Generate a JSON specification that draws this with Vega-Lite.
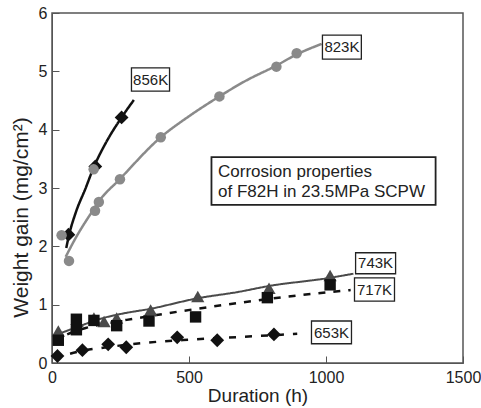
{
  "$schema": "https://vega.github.io/schema/vega-lite/v6.json",
  "width": 411,
  "height": 350,
  "autosize": {"type": "none"},
  "padding": {"left": 52, "top": 13, "right": 18, "bottom": 45},
  "background": "white",
  "config": {
    "view": {"stroke": "#555", "strokeWidth": 1.5},
    "font": "Liberation Sans",
    "axis": {"domainColor": "#555", "tickColor": "#555", "labelColor": "#222", "titleColor": "#222", "grid": false}
  },
  "datasets": {
    "pts": [
      {"series": "856K", "h": 60, "w": 2.2},
      {"series": "856K", "h": 158, "w": 3.37},
      {"series": "856K", "h": 254, "w": 4.21},
      {"series": "823K", "h": 35, "w": 2.19},
      {"series": "823K", "h": 62, "w": 1.75},
      {"series": "823K", "h": 152, "w": 3.32},
      {"series": "823K", "h": 157, "w": 2.61},
      {"series": "823K", "h": 171, "w": 2.76},
      {"series": "823K", "h": 248, "w": 3.15},
      {"series": "823K", "h": 397, "w": 3.87},
      {"series": "823K", "h": 611, "w": 4.57},
      {"series": "823K", "h": 819, "w": 5.08},
      {"series": "823K", "h": 893, "w": 5.31},
      {"series": "743K", "h": 23, "w": 0.55},
      {"series": "743K", "h": 92, "w": 0.71},
      {"series": "743K", "h": 153, "w": 0.77},
      {"series": "743K", "h": 190, "w": 0.71},
      {"series": "743K", "h": 236, "w": 0.77},
      {"series": "743K", "h": 360, "w": 0.91},
      {"series": "743K", "h": 532, "w": 1.14},
      {"series": "743K", "h": 792, "w": 1.28},
      {"series": "743K", "h": 1015, "w": 1.5},
      {"series": "717K", "h": 23, "w": 0.39},
      {"series": "717K", "h": 89, "w": 0.75},
      {"series": "717K", "h": 89, "w": 0.57},
      {"series": "717K", "h": 153, "w": 0.73},
      {"series": "717K", "h": 236, "w": 0.64},
      {"series": "717K", "h": 354, "w": 0.72},
      {"series": "717K", "h": 524, "w": 0.79},
      {"series": "717K", "h": 786, "w": 1.12},
      {"series": "717K", "h": 1015, "w": 1.34},
      {"series": "653K", "h": 20, "w": 0.12},
      {"series": "653K", "h": 111, "w": 0.22},
      {"series": "653K", "h": 205, "w": 0.32},
      {"series": "653K", "h": 271, "w": 0.27},
      {"series": "653K", "h": 457, "w": 0.44},
      {"series": "653K", "h": 603, "w": 0.39},
      {"series": "653K", "h": 810, "w": 0.49}
    ],
    "fits": [
      {"series": "856K", "h": 52, "w": 1.97},
      {"series": "856K", "h": 62, "w": 2.19},
      {"series": "856K", "h": 86, "w": 2.57},
      {"series": "856K", "h": 123, "w": 3.0},
      {"series": "856K", "h": 151, "w": 3.34},
      {"series": "856K", "h": 196, "w": 3.77},
      {"series": "856K", "h": 254, "w": 4.21},
      {"series": "856K", "h": 299, "w": 4.51},
      {"series": "823K", "h": 50, "w": 1.82},
      {"series": "823K", "h": 86, "w": 2.14},
      {"series": "823K", "h": 147, "w": 2.6},
      {"series": "823K", "h": 171, "w": 2.77},
      {"series": "823K", "h": 247, "w": 3.15},
      {"series": "823K", "h": 397, "w": 3.87},
      {"series": "823K", "h": 500, "w": 4.23},
      {"series": "823K", "h": 611, "w": 4.57},
      {"series": "823K", "h": 700, "w": 4.82},
      {"series": "823K", "h": 819, "w": 5.1},
      {"series": "823K", "h": 893, "w": 5.29},
      {"series": "823K", "h": 984, "w": 5.47},
      {"series": "743K", "h": 13, "w": 0.48},
      {"series": "743K", "h": 100, "w": 0.63},
      {"series": "743K", "h": 171, "w": 0.75},
      {"series": "743K", "h": 250, "w": 0.84},
      {"series": "743K", "h": 360, "w": 0.93},
      {"series": "743K", "h": 532, "w": 1.11},
      {"series": "743K", "h": 682, "w": 1.22},
      {"series": "743K", "h": 792, "w": 1.32},
      {"series": "743K", "h": 1000, "w": 1.45},
      {"series": "743K", "h": 1100, "w": 1.53},
      {"series": "717K", "h": 7, "w": 0.37},
      {"series": "717K", "h": 60, "w": 0.5},
      {"series": "717K", "h": 123, "w": 0.6},
      {"series": "717K", "h": 200, "w": 0.68},
      {"series": "717K", "h": 300, "w": 0.76},
      {"series": "717K", "h": 460, "w": 0.88},
      {"series": "717K", "h": 680, "w": 1.03},
      {"series": "717K", "h": 900, "w": 1.16},
      {"series": "717K", "h": 1090, "w": 1.25},
      {"series": "653K", "h": 10, "w": 0.08},
      {"series": "653K", "h": 100, "w": 0.2},
      {"series": "653K", "h": 200, "w": 0.27},
      {"series": "653K", "h": 350, "w": 0.35},
      {"series": "653K", "h": 500, "w": 0.4},
      {"series": "653K", "h": 700, "w": 0.45},
      {"series": "653K", "h": 895, "w": 0.5}
    ],
    "labels": [
      {"label": "856K", "h": 360, "w": 4.86, "h0": 290, "h1": 429, "w0": 4.66, "w1": 5.06},
      {"label": "823K", "h": 1058, "w": 5.42, "h0": 987, "h1": 1129, "w0": 5.21, "w1": 5.62},
      {"label": "743K", "h": 1181, "w": 1.71, "h0": 1108, "h1": 1254, "w0": 1.53, "w1": 1.89},
      {"label": "717K", "h": 1177, "w": 1.26, "h0": 1104, "h1": 1250, "w0": 1.06, "w1": 1.46},
      {"label": "653K", "h": 1020, "w": 0.52, "h0": 947, "h1": 1093, "w0": 0.33, "w1": 0.72}
    ],
    "note": [
      {"h0": 582, "h1": 1400, "w0": 2.71, "w1": 3.53, "h": 606, "line1": 3.28, "line2": 2.93, "t1": "Corrosion properties", "t2": "of F82H in 23.5MPa SCPW"}
    ]
  },
  "encoding": {
    "x": {"field": "h", "type": "quantitative", "scale": {"domain": [0, 1500], "nice": false},
      "axis": {"values": [0, 500, 1000, 1500], "format": "d", "title": "Duration (h)", "titleFontSize": 19, "titleFontWeight": "normal", "titlePadding": 1, "labelFontSize": 16, "tickSize": -7, "labelPadding": 13, "labelFlush": false}},
    "y": {"field": "w", "type": "quantitative", "scale": {"domain": [0, 6], "nice": false},
      "axis": {"values": [0, 1, 2, 3, 4, 5, 6], "title": "Weight gain (mg/cm²)", "titleFontSize": 21, "titleFontWeight": "normal", "titlePadding": 7, "titleY": 204, "labelFontSize": 16, "tickSize": -7, "labelPadding": 12}}
  },
  "layer": [
    {
      "data": {"name": "fits"},
      "mark": {"type": "line", "interpolate": "monotone"},
      "encoding": {
        "detail": {"field": "series"},
        "color": {"field": "series", "type": "nominal", "legend": null,
          "scale": {"domain": ["856K", "823K", "743K", "717K", "653K"], "range": ["#111", "#8a8a8a", "#4a4a4a", "#111", "#111"]}},
        "strokeDash": {"field": "series", "type": "nominal", "legend": null,
          "scale": {"domain": ["856K", "823K", "743K", "717K", "653K"], "range": [[1, 0], [1, 0], [1, 0], [7, 8], [7, 9]]}},
        "strokeWidth": {"field": "series", "type": "nominal", "legend": null,
          "scale": {"type": "ordinal", "domain": ["856K", "823K", "743K", "717K", "653K"], "range": [2.5, 2.5, 2, 2.5, 2.5]}}
      }
    },
    {
      "data": {"name": "pts"},
      "mark": {"type": "point", "filled": true, "opacity": 1},
      "encoding": {
        "shape": {"field": "series", "type": "nominal", "legend": null,
          "scale": {"domain": ["856K", "823K", "743K", "717K", "653K"], "range": ["diamond", "circle", "triangle-up", "square", "diamond"]}},
        "color": {"field": "series", "type": "nominal", "legend": null,
          "scale": {"domain": ["856K", "823K", "743K", "717K", "653K"], "range": ["#111", "#8a8a8a", "#5a5a5a", "#111", "#111"]}},
        "size": {"field": "series", "type": "nominal", "legend": null,
          "scale": {"type": "ordinal", "domain": ["856K", "823K", "743K", "717K", "653K"], "range": [190, 110, 175, 130, 190]}}
      }
    },
    {
      "data": {"name": "labels"},
      "mark": {"type": "rect", "fill": "white", "stroke": "#222", "strokeWidth": 1.3},
      "encoding": {
        "x": {"field": "h0", "type": "quantitative"},
        "x2": {"field": "h1"},
        "y": {"field": "w0", "type": "quantitative"},
        "y2": {"field": "w1"}
      }
    },
    {
      "data": {"name": "labels"},
      "mark": {"type": "text", "fontSize": 15, "color": "#222", "align": "center", "baseline": "middle"},
      "encoding": {"text": {"field": "label"}}
    },
    {
      "data": {"name": "note"},
      "mark": {"type": "rect", "fill": "white", "stroke": "#222", "strokeWidth": 1.8},
      "encoding": {
        "x": {"field": "h0", "type": "quantitative"},
        "x2": {"field": "h1"},
        "y": {"field": "w0", "type": "quantitative"},
        "y2": {"field": "w1"}
      }
    },
    {
      "data": {"name": "note"},
      "mark": {"type": "text", "fontSize": 17, "color": "#222", "align": "left", "baseline": "middle"},
      "encoding": {"y": {"field": "line1", "type": "quantitative"}, "text": {"field": "t1"}}
    },
    {
      "data": {"name": "note"},
      "mark": {"type": "text", "fontSize": 17, "color": "#222", "align": "left", "baseline": "middle"},
      "encoding": {"y": {"field": "line2", "type": "quantitative"}, "text": {"field": "t2"}}
    }
  ]
}
